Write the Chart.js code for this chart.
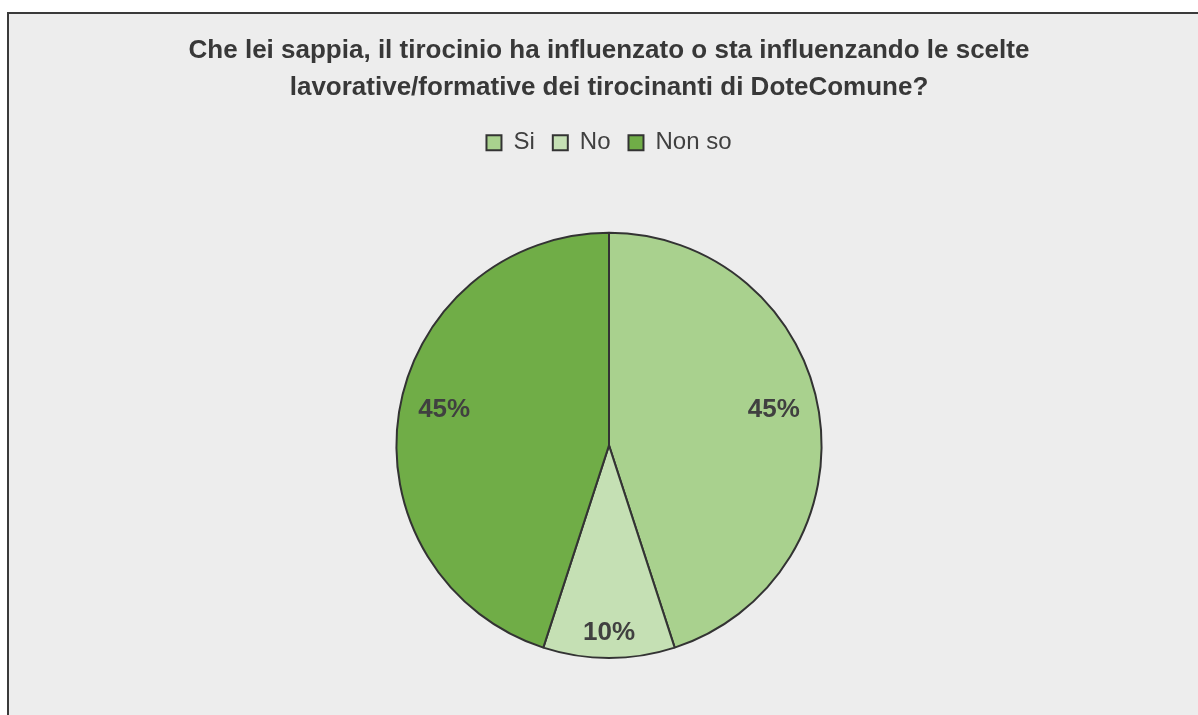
<!DOCTYPE html>
<html>
<head>
<meta charset="utf-8">
<script src="https://cdn.jsdelivr.net/npm/chart.js@4/dist/chart.umd.min.js"></script>
<style>
  html, body { margin: 0; padding: 0; background: #ffffff; width: 1198px; height: 715px; overflow: hidden; }
  #frame { position: absolute; left: 7px; top: 12px; width: 1191px; height: 703px;
           border-left: 2px solid #3a3a3a; border-top: 2px solid #3a3a3a; background: #EDEDED; }
  #wrap { position: absolute; left: 0; top: 0; width: 1189px; height: 701px; }
</style>
</head>
<body>
<div id="frame"><div id="wrap"><canvas id="c" width="1189" height="701"></canvas></div></div>
<script>
const titleLines = ["Che lei sappia, il tirocinio ha influenzato o sta influenzando le scelte",
                    "lavorative/formative dei tirocinanti di DoteComune?"];
const categories = ["Si", "No", "Non so"];
const values = [45, 10, 45];
const colors = ["#A9D18E", "#C5E0B4", "#70AD47"];

const labelPlugin = {
  id: 'sliceLabels',
  afterDatasetsDraw(chart) {
    const ctx = chart.ctx;
    const meta = chart.getDatasetMeta(0);
    const total = values.reduce((a, b) => a + b, 0);
    ctx.save();
    ctx.font = 'bold 26px "Liberation Sans", Arial, sans-serif';
    ctx.fillStyle = '#404040';
    ctx.textAlign = 'center';
    ctx.textBaseline = 'middle';
    meta.data.forEach((arc, i) => {
      const p = arc.getProps(['x', 'y', 'startAngle', 'endAngle', 'outerRadius'], true);
      const mid = (p.startAngle + p.endAngle) / 2;
      const share = values[i] / total;
      const frac = share < 0.2 ? 0.88 : 0.785;
      const r = p.outerRadius * frac;
      const tx = p.x + Math.cos(mid) * r;
      const ty = p.y + Math.sin(mid) * r - (share < 0.2 ? 0 : 9);
      ctx.fillText(Math.round(share * 100) + '%', tx, ty);
    });
    ctx.restore();
  }
};

new Chart(document.getElementById('c'), {
  type: 'pie',
  data: {
    labels: categories,
    datasets: [{
      data: values,
      backgroundColor: colors,
      borderColor: '#333333',
      borderWidth: 2
    }]
  },
  options: {
    responsive: false,
    animation: false,
    layout: { padding: { left: 11, right: 0, top: 0, bottom: 56 } },
    plugins: {
      title: {
        display: true,
        text: titleLines,
        color: '#383838',
        font: { family: '"Liberation Sans", Arial, sans-serif', size: 26, weight: 'bold', lineHeight: 1.42 },
        padding: { top: 18, bottom: 7 }
      },
      subtitle: {
        display: true,
        text: ' ',
        weight: 500,
        position: 'top',
        font: { size: 10, lineHeight: 1 },
        padding: { top: 57, bottom: 0 }
      },
      legend: {
        display: true,
        position: 'top',
        labels: {
          color: '#404040',
          font: { family: '"Liberation Sans", Arial, sans-serif', size: 24 },
          boxWidth: 15,
          boxHeight: 15,
          padding: 18
        }
      },
      tooltip: { enabled: false }
    }
  },
  plugins: [labelPlugin]
});
</script>
</body>
</html>
